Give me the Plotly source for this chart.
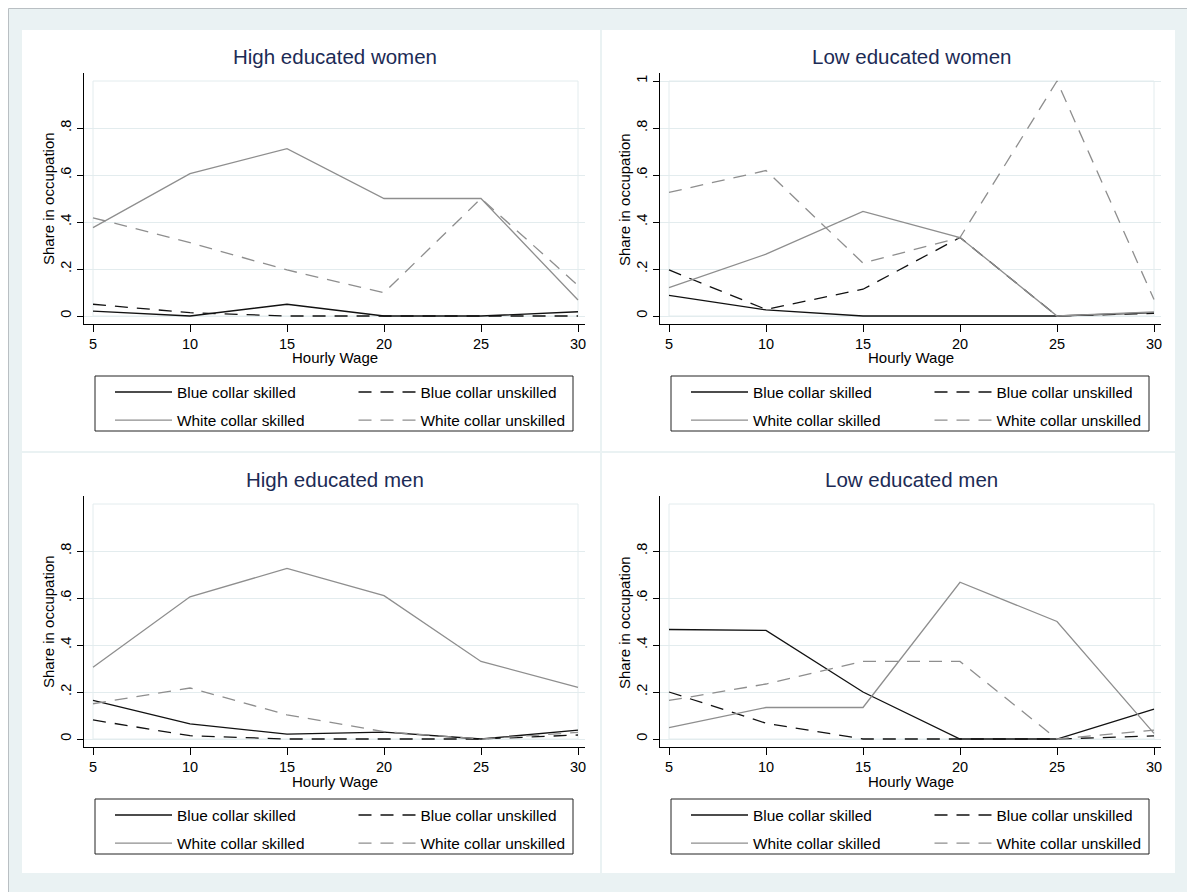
import plotly.graph_objects as go

# ---------------- data ----------------
wage = [5, 10, 15, 20, 25, 30]
series_names = ["Blue collar skilled", "Blue collar unskilled",
                "White collar skilled", "White collar unskilled"]
panel_titles = ["High educated women", "Low educated women",
                "High educated men", "Low educated men"]
x_title = "Hourly Wage"
y_title = "Share in occupation"

hw_bcs = [0.021, 0.0, 0.05, 0.0, 0.0, 0.018]
hw_bcu = [0.05, 0.014, 0.0, 0.0, 0.0, 0.0]
hw_wcs = [0.376, 0.606, 0.712, 0.5, 0.5, 0.068]
hw_wcu = [0.418, 0.312, 0.196, 0.099, 0.5, 0.13]

lw_bcs = [0.088, 0.026, 0.0, 0.0, 0.0, 0.014]
lw_bcu = [0.196, 0.028, 0.114, 0.334, 0.0, 0.011]
lw_wcs = [0.121, 0.263, 0.445, 0.334, 0.0, 0.017]
lw_wcu = [0.526, 0.619, 0.225, 0.334, 1.0, 0.07]

hm_bcs = [0.164, 0.064, 0.021, 0.029, 0.0, 0.038]
hm_bcu = [0.081, 0.014, 0.0, 0.0, 0.0, 0.017]
hm_wcs = [0.305, 0.605, 0.726, 0.61, 0.33, 0.22]
hm_wcu = [0.15, 0.217, 0.103, 0.031, 0.0, 0.028]

lm_bcs = [0.466, 0.462, 0.2, 0.0, 0.0, 0.127]
lm_bcu = [0.2, 0.067, 0.0, 0.0, 0.0, 0.013]
lm_wcs = [0.048, 0.134, 0.134, 0.667, 0.5, 0.024]
lm_wcu = [0.164, 0.234, 0.33, 0.33, 0.0, 0.038]

y_ticks_std = [0, 0.2, 0.4, 0.6, 0.8]
y_ticks_lw = [0, 0.2, 0.4, 0.6, 0.8, 1.0]
y_ticktext_std = ["0", ".2", ".4", ".6", ".8"]
y_ticktext_lw = ["0", ".2", ".4", ".6", ".8", "1"]

panels = [
    (hw_bcs, hw_bcu, hw_wcs, hw_wcu),
    (lw_bcs, lw_bcu, lw_wcs, lw_wcu),
    (hm_bcs, hm_bcu, hm_wcs, hm_wcu),
    (lm_bcs, lm_bcu, lm_wcs, lm_wcu),
]
panel_yticks = [(y_ticks_std, y_ticktext_std), (y_ticks_lw, y_ticktext_lw),
                (y_ticks_std, y_ticktext_std), (y_ticks_std, y_ticktext_std)]

# ---------------- styling / layout ----------------
PAGE_OFF = 8                # browser body margin
W, H = 1195 - PAGE_OFF, 892 - PAGE_OFF
FONT = "Liberation Sans, Arial, sans-serif"
TITLE_COLOR = "#1C2B55"
GRID = "#E3ECEE"
BG = "#EAF2F3"
DASH = "13px,9px"
styles = [
    dict(color="#111111", dash="solid"),
    dict(color="#111111", dash=DASH),
    dict(color="#8E8E8E", dash="solid"),
    dict(color="#8E8E8E", dash=DASH),
]
offsets = [(0, 0), (576, 0), (0, 423), (576, 423)]


def fx(x):
    return (x - PAGE_OFF) / W


def fy(y):
    return 1 - (y - PAGE_OFF) / H


fig = go.Figure()
layout = dict(
    width=W, height=H, margin=dict(l=0, r=0, t=0, b=0),
    paper_bgcolor="white", plot_bgcolor="rgba(0,0,0,0)",
    font=dict(family=FONT, color="black"),
    showlegend=True,
)
shapes = [
    dict(type="rect", xref="paper", yref="paper", x0=fx(8.5), x1=fx(1200),
         y0=fy(900), y1=fy(8.5), fillcolor=BG, line=dict(color="#B9BFC3", width=1),
         layer="below"),
]
annotations = []

for p, (dx, dy) in enumerate(offsets):
    n = p + 1
    xa = "x" if n == 1 else f"x{n}"
    ya = "y" if n == 1 else f"y{n}"
    # panel white background
    x0p, x1p = (22, 600) if dx == 0 else (602, 1175)
    y0p, y1p = (30, 451) if dy == 0 else (453, 873)
    shapes.append(dict(type="rect", xref="paper", yref="paper",
                       x0=fx(x0p), x1=fx(x1p), y0=fy(y1p), y1=fy(y0p),
                       fillcolor="white", line=dict(width=0), layer="below"))
    # plot region outline
    shapes.append(dict(type="rect", xref=xa, yref=ya,
                       x0=wage[0], x1=wage[-1], y0=0, y1=1,
                       line=dict(color=GRID, width=1), layer="below"))
    # legend box
    shapes.append(dict(type="rect", xref="paper", yref="paper",
                       x0=fx(95 + dx), x1=fx(573 + dx), y0=fy(431 + dy), y1=fy(376 + dy),
                       line=dict(color="#222222", width=1), layer="above"))

    leg1 = "legend" if 2 * p + 1 == 1 else f"legend{2 * p + 1}"
    leg2 = f"legend{2 * p + 2}"
    for s, vals in enumerate(panels[p]):
        fig.add_trace(go.Scatter(
            x=wage, y=vals, mode="lines", name=series_names[s],
            line=dict(color=styles[s]["color"], dash=styles[s]["dash"], width=1.3),
            xaxis=xa, yaxis=ya, legend=(leg1 if s % 2 == 0 else leg2),
            legendgroup=f"p{p}s{s}", hoverinfo="skip",
        ))

    for k, lx in ((leg1, 110), (leg2, 353.5)):
        layout[k] = dict(
            x=fx(lx + dx), y=fy(375.5 + dy), xanchor="left", yanchor="top",
            bgcolor="rgba(0,0,0,0)", borderwidth=0, orientation="v",
            traceorder="grouped", tracegroupgap=5,
            itemwidth=57, font=dict(family=FONT, size=15.4, color="black"),
        )

    xkey = "xaxis" if n == 1 else f"xaxis{n}"
    ykey = "yaxis" if n == 1 else f"yaxis{n}"
    layout[xkey] = dict(
        domain=[fx(84 + dx), fx(585 + dx)],
        range=[5 + (84 - 93) / 19.4, 5 + (585 - 93) / 19.4],
        anchor=ya, tickvals=wage, ticks="outside", ticklen=7, tickcolor="black",
        showline=True, linecolor="black", linewidth=1, showgrid=False, zeroline=False,
        tickfont=dict(family=FONT, size=14.5, color="black"),
    )
    tv, tt = panel_yticks[p]
    layout[ykey] = dict(
        domain=[fy(324 + dy), fy(73 + dy)],
        range=[(316 - 324) / 235, (316 - 73) / 235],
        anchor=xa, tickvals=tv, ticktext=tt, tickangle=-90,
        ticks="outside", ticklen=6, tickcolor="black",
        showline=True, linecolor="black", linewidth=1,
        showgrid=True, gridcolor=GRID, gridwidth=1, zeroline=False,
        tickfont=dict(family=FONT, size=14.5, color="black"),
    )
    annotations.append(dict(
        text=panel_titles[p], xref="paper", yref="paper",
        x=fx(335 + dx), y=fy(56 + dy), xanchor="center", yanchor="middle",
        showarrow=False, font=dict(family=FONT, size=20.5, color=TITLE_COLOR),
    ))
    annotations.append(dict(
        text=x_title, xref="paper", yref="paper",
        x=fx(335 + dx), y=fy(358 + dy), xanchor="center", yanchor="middle",
        showarrow=False, font=dict(family=FONT, size=15, color="black"),
    ))
    annotations.append(dict(
        text=y_title, xref="paper", yref="paper", textangle=-90,
        x=fx(48 + dx), y=fy(199 + dy), xanchor="center", yanchor="middle",
        showarrow=False, font=dict(family=FONT, size=15, color="black"),
    ))

layout["shapes"] = shapes
layout["annotations"] = annotations
fig.update_layout(**layout)
fig.write_html("out.html")
